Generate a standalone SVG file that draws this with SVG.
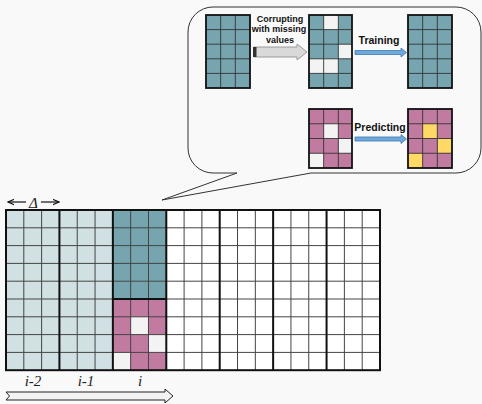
<svg xmlns="http://www.w3.org/2000/svg" width="482" height="404" viewBox="0 0 482 404">
<defs>
<style>
.thin{stroke:#444;stroke-width:1;fill:none}
.mthin{stroke:#333;stroke-width:0.9;fill:none}
.blk{stroke:#111;stroke-width:2;fill:none}
.mblk{stroke:#111;stroke-width:1.8;fill:none}
.lb{fill:#d0e0e3}
.tl{fill:#76a5af}
.pk{fill:#c27ba0}
.wh{fill:#f3f3f3}
.yl{fill:#ffd966}
.lbl{font-family:"Liberation Sans",Arial,sans-serif;font-weight:bold;fill:#111;text-anchor:middle}
.it{font-family:"Liberation Serif","DejaVu Serif",serif;font-style:italic;fill:#222;text-anchor:middle}
.blue{fill:#6fa8dc;stroke:#3d78b0;stroke-width:0.8}
</style>
<marker id="ah" viewBox="0 0 10 10" refX="9" refY="5" markerWidth="7" markerHeight="7" orient="auto-start-reverse" markerUnits="userSpaceOnUse">
<path d="M0,1 L9,5 L0,9" fill="none" stroke="#111" stroke-width="1.5"/>
</marker>
</defs>
<rect width="482" height="404" fill="#f9f9f9"/>

<g id="callout">
<path d="M213 7 H456 A25 25 0 0 1 481 32 V148 A25 25 0 0 1 456 173 H311 L162 200 L237 173 H213 A25 25 0 0 1 188 148 V32 A25 25 0 0 1 213 7 Z" fill="#f9f9f9" stroke="#333" stroke-width="1"/>
</g>

<g id="grid-original">
<rect class="tl" x="206" y="15" width="44" height="73"/>
<path class="mthin" d="M220.67 15V88M235.33 15V88M206 29.6H250M206 44.2H250M206 58.8H250M206 73.4H250"/>
<rect class="mblk" x="206" y="15" width="44" height="73"/>
</g>

<g id="grid-corrupted">
<rect class="tl" x="309" y="15" width="43" height="73"/>
<rect class="wh" x="323.67" y="15" width="14.67" height="14.6"/>
<rect class="wh" x="338.33" y="44.2" width="13.67" height="14.6"/>
<rect class="wh" x="309" y="58.8" width="29.33" height="14.6"/>
<path class="mthin" d="M323.67 15V88M338.33 15V88M309 29.6H352M309 44.2H352M309 58.8H352M309 73.4H352"/>
<rect class="mblk" x="309" y="15" width="43" height="73"/>
</g>

<g id="grid-trained">
<rect class="tl" x="408" y="15" width="44" height="73"/>
<path class="mthin" d="M422.67 15V88M437.33 15V88M408 29.6H452M408 44.2H452M408 58.8H452M408 73.4H452"/>
<rect class="mblk" x="408" y="15" width="44" height="73"/>
</g>

<g id="grid-query">
<rect class="pk" x="309" y="109" width="43" height="59"/>
<rect class="wh" x="323.67" y="123.75" width="14.67" height="14.75"/>
<rect class="wh" x="338.33" y="138.5" width="13.67" height="14.75"/>
<rect class="wh" x="309" y="153.25" width="14.67" height="14.75"/>
<path class="mthin" d="M323.67 109V168M338.33 109V168M309 123.75H352M309 138.5H352M309 153.25H352"/>
<rect class="mblk" x="309" y="109" width="43" height="59"/>
</g>

<g id="grid-predicted">
<rect class="pk" x="408" y="109" width="44" height="59"/>
<rect class="yl" x="422.67" y="123.75" width="14.67" height="14.75"/>
<rect class="yl" x="437.33" y="138.5" width="14.67" height="14.75"/>
<rect class="yl" x="408" y="153.25" width="14.67" height="14.75"/>
<path class="mthin" d="M422.67 109V168M437.33 109V168M408 123.75H452M408 138.5H452M408 153.25H452"/>
<rect class="mblk" x="408" y="109" width="44" height="59"/>
</g>

<g id="connectors">
<path d="M254 47 H297 V44 L307 52 L297 60 V57 H254 Z" fill="#d9d9d9" stroke="#888" stroke-width="0.8"/>
<rect x="253" y="47" width="3.5" height="10" fill="#333"/>
<text class="lbl" x="280" y="21.5" font-size="9">Corrupting</text>
<text class="lbl" x="279" y="32" font-size="9">with missing</text>
<text class="lbl" x="280" y="42.5" font-size="9">values</text>

<path class="blue" d="M355 50.5 H401 V48 L406.5 52.5 L401 57 V54.5 H355 Z"/>
<text class="lbl" x="379" y="44" font-size="10.5">Training</text>

<path class="blue" d="M355 137 H401 V134.5 L406.5 139 L401 143.5 V141 H355 Z"/>
<text class="lbl" x="380" y="131" font-size="10.5">Predicting</text>

<path d="M6 392 H165 V389 L173 396 L165 403 V400 H6 L9.5 396 Z" fill="#f3f3f3" stroke="#222" stroke-width="1"/>

<line x1="26" y1="202" x2="8" y2="202" stroke="#111" stroke-width="1.2" marker-end="url(#ah)"/>
<line x1="41" y1="202" x2="59" y2="202" stroke="#111" stroke-width="1.2" marker-end="url(#ah)"/>
<text class="it" x="33.5" y="207.5" font-size="15">Δ</text>
</g>

<g id="timeline-grid">
<rect class="lb" x="6" y="210" width="106.86" height="160.2"/>
<rect fill="#fff" x="166.29" y="210" width="213.71" height="160.2"/>
<rect class="tl" x="112.86" y="210" width="53.43" height="89"/>
<rect class="pk" x="112.86" y="299" width="53.43" height="71.2"/>
<rect class="wh" x="130.67" y="316.8" width="17.81" height="17.8"/>
<rect class="wh" x="148.48" y="334.6" width="17.81" height="17.8"/>
<rect class="wh" x="112.86" y="352.4" width="17.81" height="17.8"/>
<path class="thin" d="M23.81 210V370.2M41.62 210V370.2M77.24 210V370.2M95.05 210V370.2M130.67 210V370.2M148.48 210V370.2M184.10 210V370.2M201.90 210V370.2M237.52 210V370.2M255.33 210V370.2M290.95 210V370.2M308.76 210V370.2M344.38 210V370.2M362.19 210V370.2M6 227.8H380M6 245.6H380M6 263.4H380M6 281.2H380M6 299H380M6 316.8H380M6 334.6H380M6 352.4H380"/>
<path class="blk" d="M59.43 210V370.2M112.86 210V370.2M166.29 210V370.2M219.71 210V370.2M273.14 210V370.2M326.57 210V370.2"/>
<path d="M112.86 299H166.29" stroke="#111" stroke-width="1.8"/>
<rect class="blk" x="6" y="210" width="374" height="160.2"/>
</g>

<g id="labels">
<text class="it" x="33" y="386" font-size="15">i-2</text>
<text class="it" x="86" y="386" font-size="15">i-1</text>
<text class="it" x="140" y="386" font-size="15">i</text>
</g>
</svg>
